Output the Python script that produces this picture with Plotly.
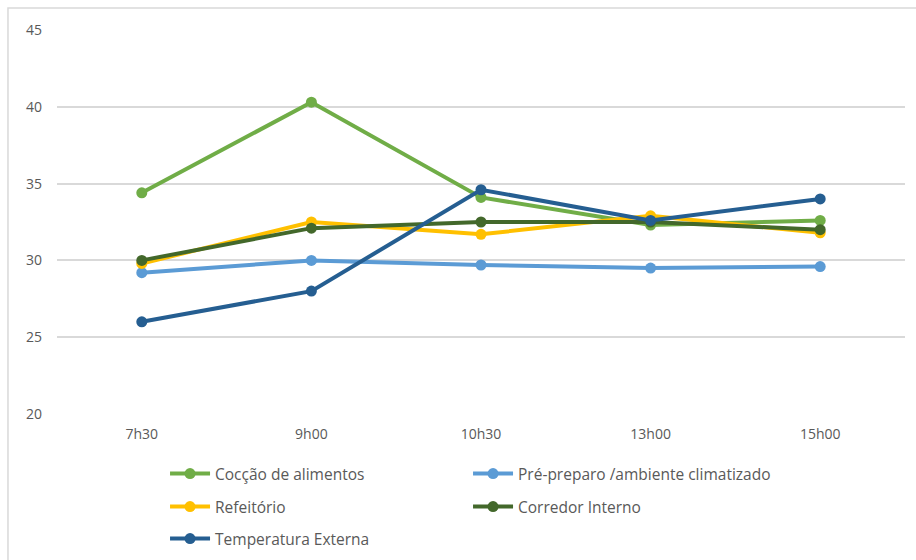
import plotly.graph_objects as go

categories = ["7h30", "9h00", "10h30", "13h00", "15h00"]
coccao = [34.4, 40.3, 34.1, 32.3, 32.6]
pre_preparo = [29.2, 30.0, 29.7, 29.5, 29.6]
refeitorio = [29.8, 32.5, 31.7, 32.9, 31.8]
corredor = [30.0, 32.1, 32.5, 32.5, 32.0]
temp_externa = [26.0, 28.0, 34.6, 32.6, 34.0]
y_ticks = [20, 25, 30, 35, 40, 45]

series = [
    ("Cocção de alimentos", coccao, "#70AD47", "legend"),
    ("Pré-preparo /ambiente climatizado", pre_preparo, "#5B9BD5", "legend"),
    ("Refeitório", refeitorio, "#FFC000", "legend2"),
    ("Corredor Interno", corredor, "#43682B", "legend2"),
    ("Temperatura Externa", temp_externa, "#255E91", "legend3"),
]

fig = go.Figure()
for name, vals, color, leg in series:
    fig.add_trace(go.Scatter(
        x=categories, y=vals, name=name, mode="lines+markers",
        line=dict(color=color, width=4),
        marker=dict(color=color, size=11),
        legend=leg,
    ))

font_family = "Open Sans, Liberation Sans, sans-serif"
leg_common = dict(orientation="h", x=0.1274, xanchor="left", yanchor="middle",
                  entrywidth=248, itemwidth=40, bgcolor="rgba(0,0,0,0)",
                  font=dict(size=15.5, color="#595959"))
fig.update_layout(
    width=916, height=560,
    margin=dict(l=57, r=11, t=30, b=146, autoexpand=False),
    paper_bgcolor="white", plot_bgcolor="white",
    font=dict(family=font_family, size=14, color="#595959"),
    xaxis=dict(type="category", range=[-0.5, 4.5], showgrid=False, showline=False,
               zeroline=False, ticks="", tickfont=dict(size=14, color="#595959"),
               ticklabelstandoff=10, automargin=False),
    yaxis=dict(range=[20, 45], tickvals=y_ticks, showgrid=True, gridcolor="#D9D9D9",
               gridwidth=1.5, zeroline=False, showline=False, ticks="",
               tickfont=dict(size=14, color="#595959"), ticklabelstandoff=14,
               automargin=False),
    legend=dict(y=-0.1563, **leg_common),
    legend2=dict(y=-0.2422, **leg_common),
    legend3=dict(y=-0.3255, **leg_common),
    shapes=[dict(type="rect", xref="paper", yref="paper",
                 x0=-0.0578, x1=1.2, y0=-0.6, y1=1.0573,
                 line=dict(color="#D9D9D9", width=1.5), fillcolor="rgba(0,0,0,0)",
                 layer="below")],
)

fig.write_html("out.html")
